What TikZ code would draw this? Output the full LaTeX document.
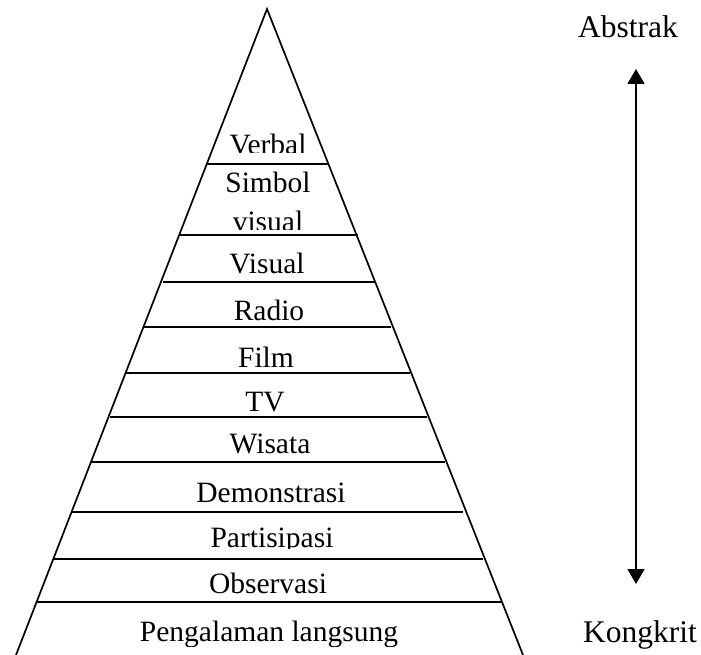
\documentclass[tikz,border=0pt]{standalone}
\usepackage{fontspec}
\setmainfont{Liberation Serif}
\usetikzlibrary{arrows.meta}
\tikzset{
  side/.style={line width=1.7pt, line join=miter},
  band/.style={line width=2.1pt},
  lbl/.style={anchor=base, inner sep=0pt, font=\fontsize{29.5pt}{34pt}\selectfont},
  sidelbl/.style={anchor=base west, inner sep=0pt, font=\fontsize{31.5pt}{36pt}\selectfont},
  dirarrow/.style={line width=1.7pt, {Triangle[width=17pt,length=15pt]}-{Triangle[width=17pt,length=15pt]}}
}
\begin{document}
\begin{tikzpicture}[x=1pt,y=-1pt]
\useasboundingbox (0,0) rectangle (701,655);
% triangle
\coordinate (apex) at (267,9);
\coordinate (bl) at (16,655);
\coordinate (br) at (523,655);
\draw[side] (bl) -- (apex) -- (br);
% band lines
\draw[band] (207,164) -- (328,164);
\draw[band] (180,235) -- (358,235);
\draw[band] (163,282) -- (375,282);
\draw[band] (144,327) -- (391,327);
\draw[band] (126,373) -- (410,373);
\draw[band] (110,417) -- (427,417);
\draw[band] (91,462) -- (445,462);
\draw[band] (72,512) -- (463,512);
\draw[band] (53,559) -- (483,559);
\draw[band] (36,602) -- (501,602);
% labels (clipped where the reference cuts them)
\begin{scope}
  \clip (150,100) rectangle (390,153);
  \node[lbl] (verbal) at (268,155) {Verbal};
\end{scope}
\node[lbl] (simbol) at (268,193) {Simbol};
\begin{scope}
  \clip (150,200) rectangle (390,229);
  \node[lbl] (simvisual) at (268,231) {visual};
\end{scope}
\node[lbl] (visual) at (267,273) {Visual};
\node[lbl] (radio) at (269,320) {Radio};
\node[lbl] (film) at (266,367) {Film};
\node[lbl] (tv) at (265,411) {TV};
\node[lbl] (wisata) at (270,453) {Wisata};
\node[lbl] (demo) at (271,502) {Demonstrasi};
\begin{scope}
  \clip (100,515) rectangle (440,548);
  \node[lbl] (partisipasi) at (272,547.5) {Partisipasi};
\end{scope}
\node[lbl] (observasi) at (268,593) {Observasi};
\begin{scope}
  \clip (60,610) rectangle (480,646);
  \node[lbl] (pengalaman) at (269,641) {Pengalaman langsung};
\end{scope}
% side labels and arrow
\node[sidelbl] (abstrak) at (578,38) {Abstrak};
\node[sidelbl] (kongkrit) at (583,642) {Kongkrit};
\coordinate (arrtop) at (636,69);
\coordinate (arrbot) at (636,584);
\draw[dirarrow] (arrtop) -- (arrbot);
\end{tikzpicture}
\end{document}
